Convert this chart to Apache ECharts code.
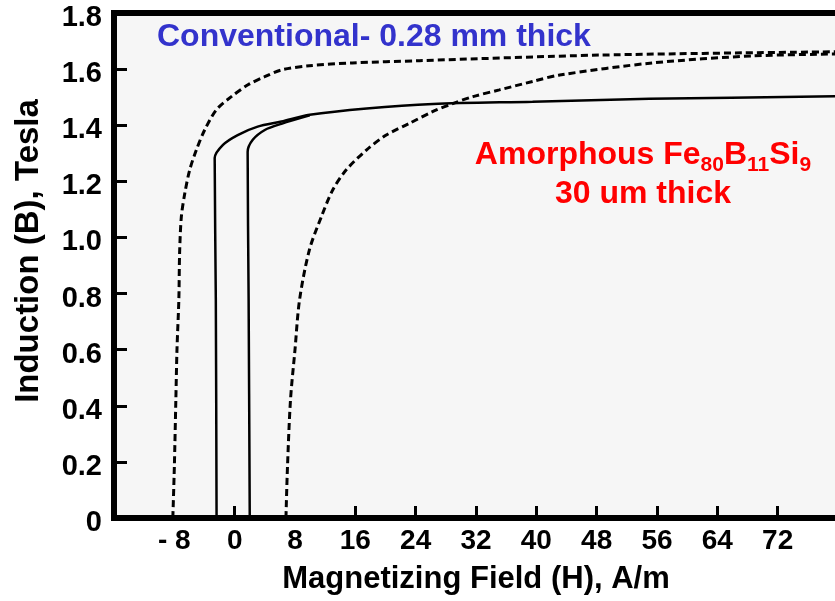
<!DOCTYPE html>
<html>
<head>
<meta charset="utf-8">
<script src="https://cdn.jsdelivr.net/npm/echarts@6/dist/echarts.min.js"></script>
<style>
  html, body { margin: 0; padding: 0; background: #fff; }
  #chart { width: 835px; height: 601px; }
</style>
</head>
<body>
<div id="chart"></div>
<script>
// 刻度
const xLabelValues = [-8, 0, 8, 16, 24, 32, 40, 48, 56, 64, 72];
const xTickValues = [0, 16, 24, 32, 40, 48, 56, 64, 72];
const yTickValues = [0, 0.2, 0.4, 0.6, 0.8, 1.0, 1.2, 1.4, 1.6, 1.8];

// Conventional 0.28 mm 回线 (虚线)
const convDownH = [-8.2, -8.0, -7.8, -7.65, -7.4, -7.3, -7.07, -6.6, -5.97, -5.08, -3.98, -2.43, -0.44, 1.77, 3.98, 6.19, 9.9, 15.6, 24.5, 48.4, 80];
const convDownB = [0, 0.18, 0.42, 0.6, 0.78, 0.945, 1.074, 1.159, 1.24, 1.312, 1.383, 1.455, 1.502, 1.544, 1.573, 1.597, 1.612, 1.622, 1.63, 1.65, 1.662];
const convUpH = [6.8, 7.0, 7.4, 8.0, 8.6, 9.9, 11.5, 13.0, 14.8, 17.5, 20.1, 23.2, 26.3, 29.0, 31.6, 35.1, 39.5, 43.1, 55.4, 68.7, 80];
const convUpB = [0, 0.18, 0.42, 0.6, 0.777, 0.955, 1.074, 1.169, 1.241, 1.312, 1.365, 1.407, 1.449, 1.478, 1.502, 1.526, 1.556, 1.579, 1.622, 1.647, 1.654];

// Amorphous Fe80B11Si9 回线 (实线)
const amorDownH = [-2.4, -2.5, -2.65, -1.55, 0.4, 3.05, 6.2, 9.95, 17.5, 26.3, 39.5, 55, 80];
const amorDownB = [0, 0.78, 1.283, 1.33, 1.365, 1.395, 1.413, 1.437, 1.46, 1.476, 1.484, 1.494, 1.503];
const amorUpH = [2.0, 1.85, 1.72, 2.4, 4.0, 6.2, 9.95];
const amorUpB = [0, 0.78, 1.305, 1.348, 1.383, 1.405, 1.435];

const font = "'Liberation Sans', Arial, sans-serif";
const zip = (hs, bs) => hs.map((h, i) => [h, bs[i]]);

const chart = echarts.init(document.getElementById("chart"));

//虚线 / 实线 公共样式
const branch = (h, b, dashed) => ({
  type: "line",
  data: zip(h, b),
  smooth: 0.3,
  showSymbol: false,
  silent: true,
  lineStyle: dashed
    ? { color: "#000", width: 3, type: [7, 4] }
    : { color: "#000", width: 2.5 }
});

chart.setOption({
  animation: false,
  backgroundColor: "#fff",
  grid: {
    left: 114,
    right: -3,
    top: 13,
    bottom: 83,
    outerBoundsMode: "none",
    containLabel: false,
    show: true,
    backgroundColor: "#f6f6f6",
    borderColor: "#000",
    borderWidth: 6
  },
  xAxis: {
    type: "value",
    min: -16,
    max: 80,
    interval: 8,
    name: "Magnetizing Field (H), A/m",
    nameLocation: "middle",
    nameGap: 46,
    nameTextStyle: { fontFamily: font, fontWeight: "bold", fontSize: 31, color: "#000" },
    axisLine: { show: true, onZero: false, lineStyle: { color: "#000", width: 6 } },
    axisTick: { show: true, inside: true, length: 12, customValues: xTickValues, lineStyle: { color: "#000", width: 3 } },
    axisLabel: {
      customValues: xLabelValues,
      margin: 9,
      fontFamily: font,
      fontWeight: "bold",
      fontSize: 28,
      color: "#000",
      formatter: v => (v < 0 ? "- " + Math.abs(v) : String(v))
    },
    splitLine: { show: false }
  },
  yAxis: {
    type: "value",
    min: 0,
    max: 1.8,
    interval: 0.2,
    axisLine: { show: true, onZero: false, lineStyle: { color: "#000", width: 6 } },
    axisTick: { show: true, inside: true, length: 13, customValues: yTickValues, lineStyle: { color: "#000", width: 3 } },
    axisLabel: {
      customValues: yTickValues,
      margin: 12,
      verticalAlign: "top",
      lineHeight: 10,
      fontFamily: font,
      fontWeight: "bold",
      fontSize: 29,
      color: "#000",
      formatter: v => (v === 0 ? "0" : v.toFixed(1))
    },
    splitLine: { show: false }
  },
  graphic: [
    {
      type: "text",
      x: 29,
      y: 251,
      rotation: Math.PI / 2,
      style: {
        text: "Induction (B), Tesla",
        font: "bold 33px " + font,
        fill: "#000",
        align: "center",
        verticalAlign: "middle"
      }
    },
    {
      type: "text",
      x: 157,
      y: 37,
      style: {
        text: "Conventional- 0.28 mm thick",
        font: "bold 32px " + font,
        fill: "#3333cc",
        align: "left",
        verticalAlign: "middle"
      }
    },
    {
      type: "text",
      x: 643,
      y: 155,
      style: {
        text: "Amorphous Fe{s|80}B{s|11}Si{s|9}",
        font: "bold 32px " + font,
        fill: "#ff0000",
        align: "center",
        verticalAlign: "middle",
        rich: {
          s: { fontFamily: font, fontWeight: "bold", fontSize: 21, fill: "#ff0000", verticalAlign: "top", padding: [21, 0, 0, 0] }
        }
      }
    },
    {
      type: "text",
      x: 643,
      y: 194,
      style: {
        text: "30 um thick",
        font: "bold 32px " + font,
        fill: "#ff0000",
        align: "center",
        verticalAlign: "middle"
      }
    }
  ],
  series: [
    branch(convDownH, convDownB, true),
    branch(convUpH, convUpB, true),
    branch(amorDownH, amorDownB, false),
    branch(amorUpH, amorUpB, false)
  ]
});
</script>
</body>
</html>
